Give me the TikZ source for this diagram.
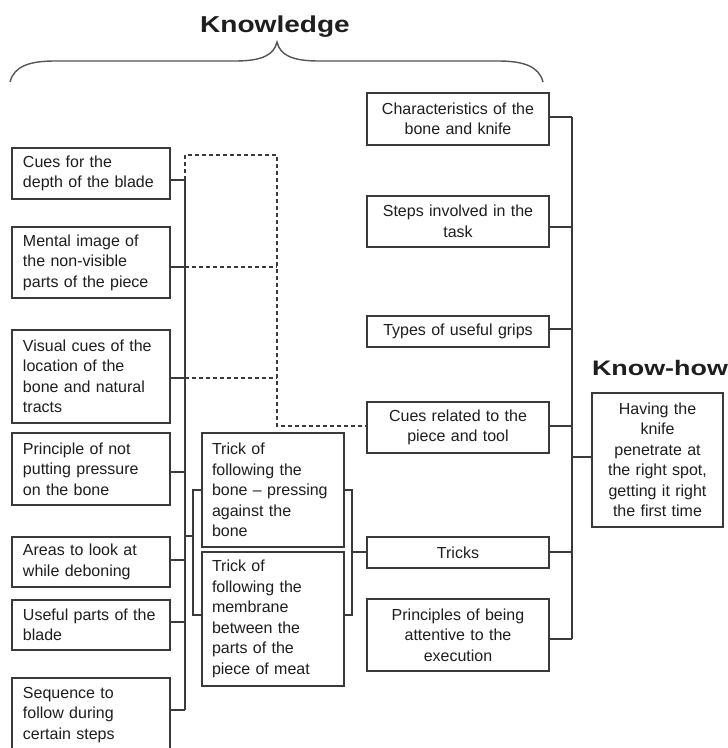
\documentclass[tikz,border=0pt]{standalone}
\usepackage{fontspec}
\usepackage{graphicx}
\setmainfont{Liberation Sans}
\definecolor{boxc}{HTML}{3A3A3A}
\definecolor{txt}{HTML}{1E1E1E}
\definecolor{bracec}{HTML}{555555}
\tikzset{
  box/.style={draw=boxc, line width=1.6pt, inner ysep=0pt, text=txt,
    font=\fontsize{16}{20.5}\selectfont},
  lbox/.style={box, align=left, text width=136pt, inner xsep=11pt, minimum width=158pt},
  tbox/.style={box, align=left, text width=122pt, inner xsep=10pt, minimum width=142pt},
  rbox/.style={box, align=center, text width=162pt, inner xsep=10pt, minimum width=182pt},
  kbox/.style={box, align=center, text width=117pt, inner xsep=7pt, minimum width=131pt},
  conn/.style={draw=boxc, line width=1.6pt},
  dconn/.style={draw=boxc, line width=1.3pt, dash pattern=on 4pt off 3pt},
  title/.style={text=txt, anchor=base, inner sep=0pt}
}
\begin{document}
\begin{tikzpicture}[x=1pt,y=-1pt]
\useasboundingbox (0,0) rectangle (728,748);
\clip (0,0) rectangle (728,748);
\fill[white] (0,0) rectangle (728,748);

% titles
\node[title, font=\bfseries\fontsize{23}{23}\selectfont] (knowledge) at (275,32) {\scalebox{1.22}[1]{Knowledge}};
\node[title, font=\bfseries\fontsize{21}{21}\selectfont] (knowhow) at (660,375) {\scalebox{1.28}[1]{Know-how}};

% brace
\draw[bracec, line width=1.4pt] (10,82) .. controls (14,66) and (30,61) .. (55,61) -- (235,61)
  .. controls (262,61) and (274,55) .. (277,42)
  .. controls (280,55) and (292,61) .. (319,61) -- (498,61)
  .. controls (523,61) and (539,66) .. (543,82);

% left column
\node[lbox, minimum height=51pt] (L1) at (91,173.5) {Cues for the\\depth of the blade};
\node[lbox, minimum height=71pt] (L2) at (91,262.5) {Mental image of\\the non-visible\\parts of the piece};
\node[lbox, minimum height=93pt] (L3) at (91,376.5) {Visual cues of the\\location of the\\bone and natural\\tracts};
\node[lbox, minimum height=72pt] (L4) at (91,469) {Principle of not\\putting pressure\\on the bone};
\node[lbox, minimum height=50pt] (L5) at (91,562) {Areas to look at\\while deboning};
\node[lbox, minimum height=50pt] (L6) at (91,625) {Useful parts of the\\blade};
\node[lbox, minimum height=74pt] (L7) at (91,715) {Sequence to\\follow during\\certain steps};

% trick boxes
\node[tbox, minimum height=114pt] (T1) at (273,490) {Trick of\\following the\\bone – pressing\\against the\\bone};
\node[tbox, minimum height=134pt] (T2) at (273,619) {Trick of\\following the\\membrane\\between the\\parts of the\\piece of meat};

% right column
\node[rbox, minimum height=52pt] (R1) at (458,119) {Characteristics of the\\bone and knife};
\node[rbox, minimum height=51pt] (R2) at (458,221.5) {Steps involved in the\\task};
\node[rbox, minimum height=31pt] (R3) at (458,331.5) {Types of useful grips};
\node[rbox, minimum height=51pt] (R4) at (458,427.5) {Cues related to the\\piece and tool};
\node[rbox, minimum height=31pt] (R5) at (458,552.5) {Tricks};
\node[rbox, minimum height=72pt] (R6) at (458,635) {Principles of being\\attentive to the\\execution};

% know-how box
\node[kbox, minimum height=134pt] (K) at (657.5,460) {Having the\\knife\\penetrate at\\the right spot,\\getting it right\\the first time};

% left bus coordinates
\coordinate (lb1) at (185,180);
\coordinate (lb2) at (185,267);
\coordinate (lb3) at (185,378);
\coordinate (lb4) at (185,472);
\coordinate (lbt) at (185,536);
\coordinate (lb5) at (185,560);
\coordinate (lb6) at (185,622);
\coordinate (lb7) at (185,710);

\draw[conn] (lb1) -- (lb7);
\draw[conn] (L1.east |- lb1) -- (lb1);
\draw[conn] (L2.east |- lb2) -- (lb2);
\draw[conn] (L3.east |- lb3) -- (lb3);
\draw[conn] (L4.east |- lb4) -- (lb4);
\draw[conn] (L5.east |- lb5) -- (lb5);
\draw[conn] (L6.east |- lb6) -- (lb6);
\draw[conn] (L7.east |- lb7) -- (lb7);

% dashed links
\coordinate (dtop) at (185,155);
\coordinate (dtr) at (277,155);
\coordinate (dbot) at (277,426);
\coordinate (dm2) at (277,267);
\coordinate (dm3) at (277,378);
\draw[dconn] (lb1) -- (dtop) -- (dtr) -- (dbot) -- (R4.west |- dbot);
\draw[dconn] (lb2) -- (dm2);
\draw[dconn] (lb3) -- (dm3);

% tricks bracket (left)
\coordinate (tl) at (193,536);
\coordinate (tl1) at (193,490);
\coordinate (tl2) at (193,615);
\draw[conn] (lbt) -- (tl);
\draw[conn] (T1.west |- tl1) -- (tl1) -- (tl2) -- (T2.west |- tl2);
% tricks bracket (right)
\coordinate (tr1) at (352,490);
\coordinate (tr2) at (352,615);
\coordinate (trm) at (352,552);
\draw[conn] (T1.east |- tr1) -- (tr1) -- (tr2) -- (T2.east |- tr2);
\draw[conn] (trm) -- (R5.west |- trm);

% right bus
\coordinate (rb1) at (572,117);
\coordinate (rb2) at (572,227);
\coordinate (rb3) at (572,329);
\coordinate (rb4) at (572,426);
\coordinate (rbk) at (572,457);
\coordinate (rb5) at (572,552);
\coordinate (rb6) at (572,639);
\draw[conn] (rb1) -- (rb6);
\draw[conn] (R1.east |- rb1) -- (rb1);
\draw[conn] (R2.east |- rb2) -- (rb2);
\draw[conn] (R3.east |- rb3) -- (rb3);
\draw[conn] (R4.east |- rb4) -- (rb4);
\draw[conn] (R5.east |- rb5) -- (rb5);
\draw[conn] (R6.east |- rb6) -- (rb6);
\draw[conn] (rbk) -- (K.west |- rbk);
\end{tikzpicture}
\end{document}
